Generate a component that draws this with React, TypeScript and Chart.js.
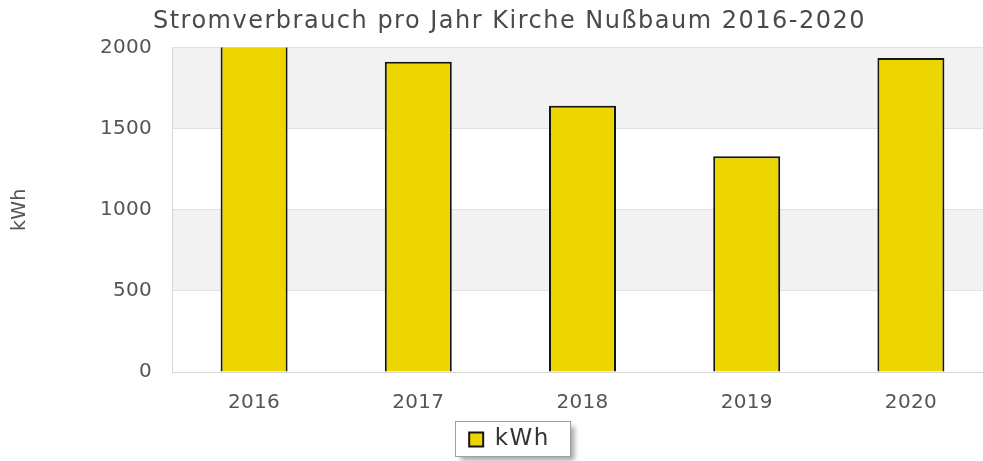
import React, { useEffect, useRef } from "react";
import { Chart, registerables } from "chart.js";

Chart.register(...registerables);

const chartTitle = "Stromverbrauch pro Jahr Kirche Nußbaum 2016-2020";
const seriesLabel = "kWh";
const yAxisLabel = "kWh";
const categories = ["2016", "2017", "2018", "2019", "2020"];
const consumption = [2040, 1912, 1641, 1330, 1935];
const yTicks = [0, 500, 1000, 1500, 2000];

const FONT = "'DejaVu Sans', sans-serif";
const CANVAS_W = 1019;
const CANVAS_H = 461;

const decorPlugin = {
  id: "decor",
  beforeLayout(chart: any) {
    chart.ctx.letterSpacing = "1.5px";
    const wrap = (box: any) => {
      if (!box || box.__wrapped) return;
      const orig = box.draw.bind(box);
      box.draw = (ca: any) => {
        const ctx = chart.ctx;
        const prev = ctx.letterSpacing;
        ctx.letterSpacing = "1.5px";
        orig(ca);
        ctx.letterSpacing = prev;
      };
      box.__wrapped = true;
    };
    wrap(chart.titleBlock);
    wrap(chart.legend);
  },
  afterLayout(chart: any) {
    chart.ctx.letterSpacing = "0px";
  },
  beforeDraw(chart: any) {
    const { ctx, chartArea, scales } = chart;
    const y = scales.y;
    ctx.save();
    ctx.fillStyle = "#f2f2f2";
    for (let i = 1; i < yTicks.length - 1; i += 2) {
      const top = y.getPixelForValue(yTicks[i + 1]);
      const bottom = y.getPixelForValue(yTicks[i]);
      ctx.fillRect(chartArea.left, top, chartArea.right - chartArea.left, bottom - top);
    }
    ctx.restore();
    ctx.letterSpacing = "0.3px";
  },
  afterDraw(chart: any) {
    const ctx = chart.ctx;
    ctx.letterSpacing = "0px";
    const lg = chart.legend;
    if (!lg || !lg.legendHitBoxes || !lg.legendHitBoxes.length) return;
    const hb = lg.legendHitBoxes[0];
    const x = Math.round(hb.left - 14) + 0.5;
    const yy = Math.round(hb.top - 7) + 0.5;
    const w = Math.round(hb.width + 34);
    const h = Math.round(hb.height + 12);
    ctx.save();
    ctx.beginPath();
    ctx.rect(0, 0, chart.width, chart.height);
    ctx.rect(x, yy, w, h);
    ctx.clip("evenodd");
    ctx.shadowColor = "rgba(0,0,0,0.35)";
    ctx.shadowBlur = 5;
    ctx.shadowOffsetX = 4;
    ctx.shadowOffsetY = 4;
    ctx.fillStyle = "#ffffff";
    ctx.fillRect(x, yy, w, h);
    ctx.restore();
    ctx.save();
    ctx.strokeStyle = "#a0a0a0";
    ctx.lineWidth = 1;
    ctx.strokeRect(x, yy, w, h);
    ctx.restore();
  },
};

export default function App() {
  const canvasRef = useRef<HTMLCanvasElement | null>(null);

  useEffect(() => {
    const canvas = canvasRef.current;
    if (!canvas) return;
    const chart = new Chart(canvas, {
      type: "bar",
      data: {
        labels: categories,
        datasets: [
          {
            label: seriesLabel,
            data: consumption,
            backgroundColor: "rgb(237,213,0)",
            borderColor: "#151515",
            borderWidth: 2,
            categoryPercentage: 1,
            barPercentage: 0.408,
            clip: 0,
            yAxisID: "y",
          } as any,
        ],
      },
      options: {
        responsive: false,
        maintainAspectRatio: false,
        animation: false,
        devicePixelRatio: 1,
        layout: { padding: 0 },
        plugins: {
          title: {
            display: true,
            text: chartTitle,
            color: "#4a4a4a",
            font: { family: FONT, size: 24, weight: "normal" as any, lineHeight: 1.2 },
            padding: { top: 7, bottom: 11.7 },
          },
          legend: {
            display: true,
            position: "bottom",
            labels: {
              color: "#333333",
              font: { family: FONT, size: 23 },
              boxWidth: 14,
              boxHeight: 14,
              padding: 10,
            },
          },
          tooltip: { enabled: false },
        },
        scales: {
          x: {
            grid: { display: false, drawTicks: false },
            border: { display: true, color: "#d6d6d6", width: 1 },
            ticks: {
              color: "#555555",
              font: { family: FONT, size: 20 },
              padding: 18.5,
              maxRotation: 0,
              autoSkip: false,
            },
            afterFit: (scale: any) => {
              scale.height = 46;
            },
          },
          y: {
            min: yTicks[0],
            max: yTicks[yTicks.length - 1],
            afterBuildTicks: (scale: any) => {
              scale.ticks = yTicks.map((v) => ({ value: v }));
            },
            grid: { color: "#e2e2e2", lineWidth: 1, drawTicks: false },
            border: { display: true, color: "#d6d6d6", width: 1 },
            ticks: {
              color: "#555555",
              font: { family: FONT, size: 20 },
              padding: 20,
              callback: (v: any) => String(v),
            },
            title: {
              display: true,
              text: yAxisLabel,
              color: "#555555",
              font: { family: FONT, size: 19 },
              padding: { top: 8.6, bottom: 0 },
            },
            afterFit: (scale: any) => {
              scale.width = 172;
            },
          },
          spacer: {
            type: "linear",
            position: "right",
            display: true,
            grid: { display: false, drawOnChartArea: false, drawTicks: false },
            border: { display: false },
            ticks: { display: false },
            afterFit: (scale: any) => {
              scale.width = 26;
            },
          },
        },
      },
      plugins: [decorPlugin as any],
    });
    return () => chart.destroy();
  }, []);

  return (
    <div
      style={{
        position: "fixed",
        left: 0,
        top: 0,
        width: 983,
        height: 461,
        overflow: "hidden",
        background: "#ffffff",
      }}
    >
      <canvas
        ref={canvasRef}
        width={CANVAS_W}
        height={CANVAS_H}
        style={{ display: "block", width: CANVAS_W, height: CANVAS_H }}
      />
    </div>
  );
}
